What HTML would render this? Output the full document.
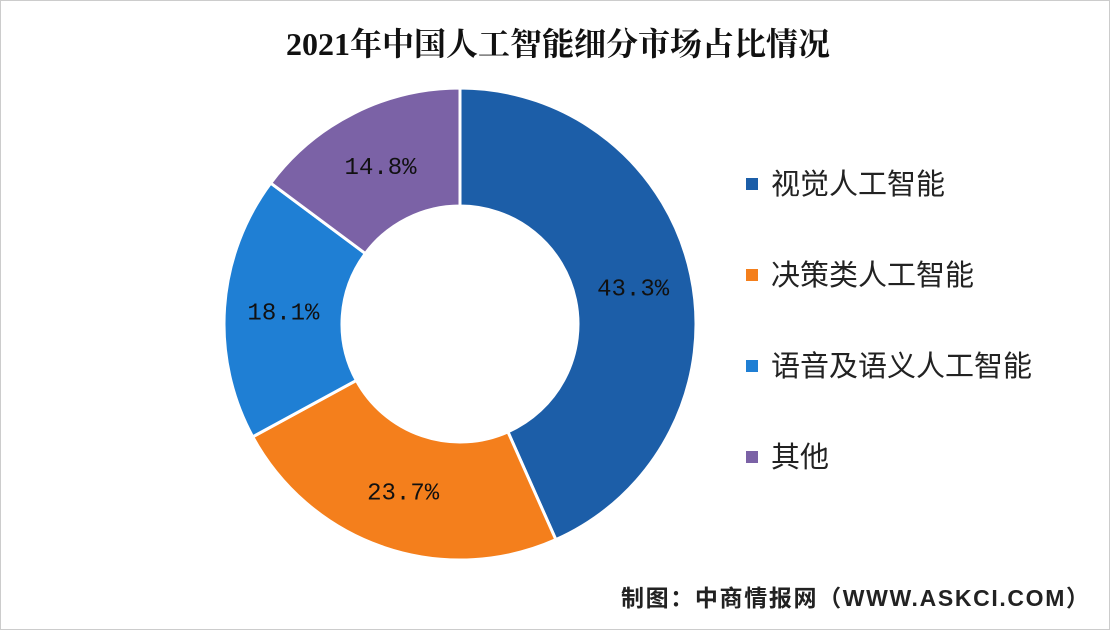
<!DOCTYPE html>
<html><head><meta charset="utf-8">
<style>
html,body{margin:0;padding:0;background:#fff;}
#wrap{position:relative;width:1110px;height:630px;overflow:hidden;background:#fff;box-sizing:border-box;border:1px solid #ccc;font-family:"Liberation Sans","Noto Sans CJK SC",sans-serif;}
</style></head>
<body>
<div id="wrap">
<svg id="chart" width="1110" height="630">
<text x="557" y="54" text-anchor="middle" font-size="32" font-weight="bold" fill="#111" font-family="'Liberation Serif','Noto Serif CJK SC',serif">2021年中国人工智能细分市场占比情况</text>
<g id="slices"></g>
<g id="labels"></g>
<g id="legend"></g>
<text x="620" y="605" font-size="23" font-weight="bold" fill="#222" textLength="468" font-family="'Liberation Sans','Noto Sans CJK SC',sans-serif">制图：中商情报网（WWW.ASKCI.COM）</text>
</svg>
</div>
<script>
const categories = ["视觉人工智能","决策类人工智能","语音及语义人工智能","其他"];
const values = [43.3, 23.7, 18.1, 14.8];
const valueLabels = ["43.3%","23.7%","18.1%","14.8%"];
const colors = ["#1c5ea8","#f47f1c","#1f7fd4","#7b62a6"];
const NS="http://www.w3.org/2000/svg";
const cx=459, cy=323, R=236, r=118;
const total=values.reduce((a,b)=>a+b,0);
function pt(a,rad){return [cx+rad*Math.sin(a), cy-rad*Math.cos(a)];}
let start=0;
const gS=document.getElementById('slices'), gL=document.getElementById('labels'), gG=document.getElementById('legend');
values.forEach((v,i)=>{
  const ang=v/total*2*Math.PI, end=start+ang, large=ang>Math.PI?1:0;
  const [x1,y1]=pt(start,R),[x2,y2]=pt(end,R),[x3,y3]=pt(end,r),[x4,y4]=pt(start,r);
  const p=document.createElementNS(NS,'path');
  p.setAttribute('d',`M${x1},${y1}A${R},${R} 0 ${large} 1 ${x2},${y2}L${x3},${y3}A${r},${r} 0 ${large} 0 ${x4},${y4}Z`);
  p.setAttribute('fill',colors[i]);p.setAttribute('stroke','#fff');p.setAttribute('stroke-width','3');
  
  
  gS.appendChild(p);
  const [lx,ly]=pt(start+ang/2,(R+r)/2);
  const t=document.createElementNS(NS,'text');
  t.setAttribute('x',lx);t.setAttribute('y',ly+8);t.setAttribute('text-anchor','middle');
  t.setAttribute('font-size','24');t.setAttribute('fill','#111');t.setAttribute('font-family','"Liberation Mono",monospace');
  t.textContent=valueLabels[i];
  
  
  gL.appendChild(t);
  const y=183+i*91;
  const sq=document.createElementNS(NS,'rect');
  sq.setAttribute('x',745);sq.setAttribute('y',y-6);sq.setAttribute('width',12);sq.setAttribute('height',12);sq.setAttribute('fill',colors[i]);
  
  
  gG.appendChild(sq);
  const lt=document.createElementNS(NS,'text');
  lt.setAttribute('x',770);lt.setAttribute('y',y+10);lt.setAttribute('font-size','29');lt.setAttribute('fill','#222');
  lt.setAttribute('font-family','"Liberation Sans","Noto Sans CJK SC",sans-serif');
  lt.textContent=categories[i];
  
  
  gG.appendChild(lt);
  start=end;
});
</script>
</body></html>
